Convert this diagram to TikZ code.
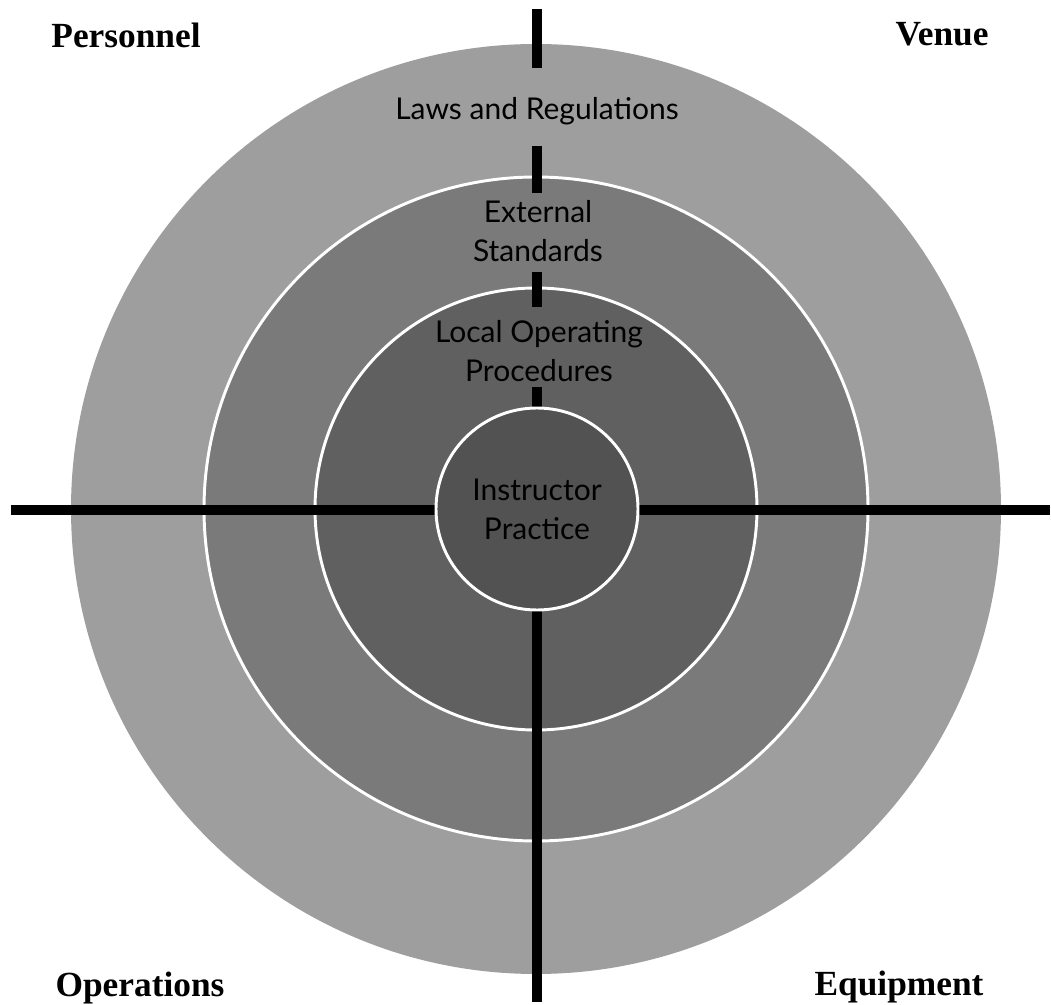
\documentclass[tikz,border=0pt]{standalone}
\usepackage{fontspec}
\setmainfont{Liberation Serif}
\newfontfamily\ringfont{Lato}
\definecolor{ringA}{HTML}{9E9E9E}
\definecolor{ringB}{HTML}{7A7A7A}
\definecolor{ringC}{HTML}{606060}
\definecolor{ringD}{HTML}{525252}
\begin{document}
\begin{tikzpicture}[x=0.75pt,y=-0.75pt,
  disc/.style={circle, inner sep=0pt, outer sep=0pt},
  rim/.style={draw=white, line width=2.2pt},
  ringtext/.style={font=\ringfont\fontsize{22.5}{29.25}\selectfont, align=center, inner sep=0pt, text=black},
  bar/.style={line width=7.5pt, draw=black, line cap=butt},
  corner/.style={font=\bfseries\fontsize{26.5}{30}\selectfont, anchor=base, inner sep=0pt}]
\useasboundingbox (0,0) rectangle (1051,1005);
\fill[white] (0,0) rectangle (1051,1005);
% rings
\node[disc, fill=ringA, minimum size=697.5pt] (outer) at (536,509) {};
\node[disc, fill=ringB, rim, minimum size=498pt] (middle) at (536,509) {};
\node[disc, fill=ringC, rim, minimum size=331.5pt] (third) at (536,509) {};
% ring labels
\node[ringtext, anchor=base] (laws) at (537,120) {Laws and Regulations};
\node[ringtext] (ext) at (538,231) {External\\Standards};
\node[ringtext] (local) at (539,351) {Local Operating\\Procedures};
% bar end points
\coordinate (vtop) at (537,9);
\coordinate (g1a) at (537,68);
\coordinate (g1b) at (537,146);
\coordinate (g2a) at (537,193);
\coordinate (g2b) at (537,272);
\coordinate (g3a) at (537,307);
\coordinate (g3b) at (537,387);
\coordinate (vbot) at (537,1002);
\coordinate (hl) at (11,510);
\coordinate (hr) at (1050,510);
% cross bars
\draw[bar] (vtop) -- (g1a);
\draw[bar] (g1b) -- (g2a);
\draw[bar] (g2b) -- (g3a);
\draw[bar] (g3b) -- (vbot);
\draw[bar] (hl) -- (hr);
% core
\node[disc, fill=ringD, rim, minimum size=151.5pt, ringtext] (core) at (537,509) {Instructor\\Practice};
% corner labels
\node[corner] (personnel) at (126,48) {Personnel};
\node[corner] (venue) at (942,46) {Venue};
\node[corner] (operations) at (140,996) {Operations};
\node[corner] (equipment) at (899,995) {Equipment};
\end{tikzpicture}
\end{document}
